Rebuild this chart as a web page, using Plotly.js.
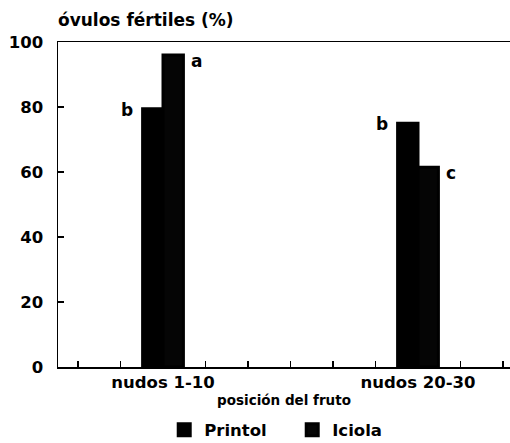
<!DOCTYPE html>
<html>
<head>
<meta charset="utf-8">
<script src="https://cdn.plot.ly/plotly-3.0.1.min.js"></script>
<style>html,body{margin:0;padding:0;background:#fff;}#chart{width:510px;height:443px;}</style>
</head>
<body>
<div id="chart"></div>
<script>
const categories = ['nudos 1-10', 'nudos 20-30'];
const printol = [79.5, 75];
const iciola = [96, 61.5];
const lettersPrintol = ['b', 'b'];
const lettersIciola = ['a', 'c'];
const seriesNames = ['Printol', 'Iciola'];
const yTicks = [0, 20, 40, 60, 80, 100];

const F = 'DejaVu Sans, Liberation Sans, Arial, sans-serif';

const traces = [
  {type: 'bar', name: seriesNames[0], x: categories, y: printol,
   marker: {color: '#000', line: {color: '#000', width: 3}}, hoverinfo: 'none'},
  {type: 'bar', name: seriesNames[1], x: categories, y: iciola,
   marker: {color: '#050505', line: {color: '#000', width: 3}}, hoverinfo: 'none'},
  {type: 'scatter', x: [0], y: [0], xaxis: 'x2', yaxis: 'y', mode: 'markers',
   marker: {opacity: 0}, showlegend: false, hoverinfo: 'none'}
];

const annotations = [];
categories.forEach((c, i) => {
  annotations.push({x: c, y: printol[i], xref: 'x', yref: 'y', text: lettersPrintol[i],
    showarrow: false, xshift: -36, yshift: -1, yanchor: 'middle',
    font: {family: F, size: 17, color: '#000', weight: 'bold'}});
  annotations.push({x: c, y: iciola[i], xref: 'x', yref: 'y', text: lettersIciola[i],
    showarrow: false, xshift: 33, yshift: -6, yanchor: 'middle',
    font: {family: F, size: 17, color: '#000', weight: 'bold'}});
});

const layout = {
  width: 510, height: 443,
  margin: {l: 58, r: 0, t: 42, b: 76, autoexpand: false},
  paper_bgcolor: '#fff', plot_bgcolor: '#fff',
  barmode: 'group', bargap: 0.84, bargroupgap: 0,
  showlegend: true,
  legend: {orientation: 'h', x: 0.235, xanchor: 'left', y: -0.14, yanchor: 'top',
    font: {family: F, size: 16.5, color: '#000', weight: 'bold'},
    entrywidth: 83, entrywidthmode: 'pixels', traceorder: 'normal'},
  title: {text: 'óvulos fértiles (%)', x: 58/510, xanchor: 'left', xref: 'container',
    y: 1 - 20/443, yanchor: 'middle',
    font: {family: F, size: 17, color: '#000', weight: 'bold'}},
  xaxis: {type: 'category', range: [-0.4118, 1.3608], showline: true, linecolor: '#000',
    linewidth: 1.5, mirror: true, ticks: '', showgrid: false, zeroline: false,
    automargin: false,
    tickfont: {family: F, size: 16.5, color: '#000', weight: 'bold'},
    title: {text: 'posición del fruto', standoff: 4,
      font: {family: F, size: 13.5, color: '#000', weight: 'bold'}}},
  xaxis2: {overlaying: 'x', anchor: 'y', side: 'bottom', range: [-0.4118, 1.3608],
    tick0: 0, dtick: 1/6, ticks: 'inside', ticklen: 6, tickwidth: 1.2, tickcolor: '#000',
    showticklabels: false, showgrid: false, zeroline: false, showline: false},
  yaxis: {range: [0, 100], tickvals: yTicks, ticks: 'inside', ticklen: 6, tickwidth: 1.2,
    tickcolor: '#000', showline: true, linecolor: '#000', linewidth: 1.5,
    showgrid: false, zeroline: false, ticklabelstandoff: 10, automargin: false,
    tickfont: {family: F, size: 16.5, color: '#000', weight: 'bold'}},
  annotations: annotations
};

Plotly.newPlot('chart', traces, layout, {displayModeBar: false, staticPlot: true});
</script>
</body>
</html>
